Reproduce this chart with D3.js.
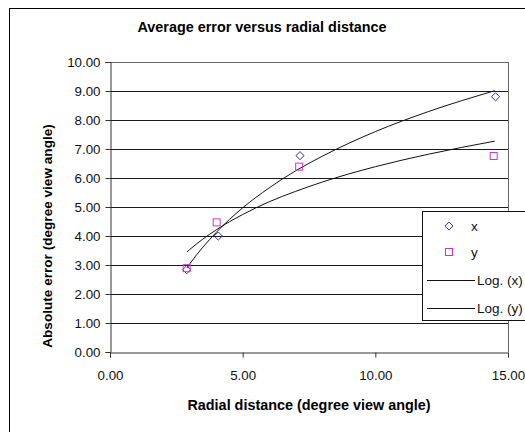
<!DOCTYPE html>
<html>
<head>
<meta charset="utf-8">
<script src="https://cdn.jsdelivr.net/npm/d3@7"></script>
<style>
  body { margin: 0; background: #fff; }
  svg { display: block; font-family: "Liberation Sans", Arial, sans-serif; }
</style>
</head>
<body>
<script>
"use strict";
(function(){
    // measured points
    const xDist = [2.89, 4.08, 7.16, 14.53]
    const xErr = [2.84, 4.00, 6.77, 8.80]
    const yDist = [2.89, 4.02, 7.13, 14.46]
    const yErr = [2.89, 4.47, 6.39, 6.76]

    // trend lines
    const trendDist = [2.9, 3, 4, 5, 6, 7, 8, 10, 12, 14.5]
    const logX = [2.90, 3.03, 4.12, 4.97, 5.66, 6.25, 6.75, 7.60, 8.29, 9.01]
    const logY = [3.45, 3.53, 4.21, 4.74, 5.18, 5.54, 5.86, 6.39, 6.82, 7.27]

    const yTicks = [0, 1, 2, 3, 4, 5, 6, 7, 8, 9, 10]
    const xTicks = [0, 5, 10, 15]
    const legendNames = ["x", "y", "Log. (x)", "Log. (y)"]

    const measurements = {
        width: 525,
        height: 432,
        marginLeft: 110,
        marginTop: 62,
        plotRight: 508,
        plotBottom: 352
    }

    const colors = {
        x: "#333399",
        y: "#cc33cc",
        grid: "#1a1a1a",
        border: "#666666"
    }

    const svg = d3.select("body").append("svg")
        .attr("width", measurements.width)
        .attr("height", measurements.height)

    // chart frame (runs past the picture edge)
    svg.append("rect")
        .attr("x", 9.5).attr("y", 8.5)
        .attr("width", 560).attr("height", 460)
        .attr("fill", "#fff")
        .attr("stroke", "#000")

    const scaleX = d3.scaleLinear()
        .domain([0, 15])
        .range([measurements.marginLeft, measurements.plotRight])
    const scaleY = d3.scaleLinear()
        .domain([0, 10])
        .range([measurements.plotBottom, measurements.marginTop])

    // gridlines
    svg.append("g")
        .selectAll("line")
        .data(yTicks.filter(d => d > 0))
        .enter()
        .append("line")
        .attr("x1", scaleX(0)).attr("x2", scaleX(15))
        .attr("y1", d => Math.round(scaleY(d)) + 0.5)
        .attr("y2", d => Math.round(scaleY(d)) + 0.5)
        .attr("stroke", d => d === 10 ? colors.border : colors.grid)

    // right border of plot area
    svg.append("line")
        .attr("x1", Math.round(scaleX(15)) + 0.5).attr("x2", Math.round(scaleX(15)) + 0.5)
        .attr("y1", scaleY(10)).attr("y2", scaleY(0))
        .attr("stroke", colors.border)

    // axes
    const yAxis = d3.axisLeft(scaleY)
        .tickValues(yTicks)
        .tickFormat(d3.format(".2f"))
        .tickSize(5)
        .tickPadding(5)
    const xAxis = d3.axisBottom(scaleX)
        .tickValues(xTicks)
        .tickFormat(d3.format(".2f"))
        .tickSize(5)
        .tickPadding(13)

    const gy = svg.append("g")
        .attr("transform", "translate(" + (Math.round(scaleX(0)) + 0.5) + ",0)")
        .call(yAxis)
    const gx = svg.append("g")
        .attr("transform", "translate(0," + (Math.round(scaleY(0)) + 0.5) + ")")
        .call(xAxis)

    ;[gx, gy].forEach(g => {
        g.select(".domain").attr("stroke", "#333")
        g.selectAll(".tick line").attr("stroke", "#333")
        g.selectAll("text")
            .attr("fill", "#111")
            .style("font-family", "'Liberation Sans', Arial, sans-serif")
            .style("font-size", "13.3px")
    })
    gy.selectAll("text").attr("dy", "0.36em")

    // trend lines
    const line = d3.line()
        .x(d => scaleX(d[0]))
        .y(d => scaleY(d[1]))
        .curve(d3.curveMonotoneX)

    ;[logX, logY].forEach(vals => {
        svg.append("path")
            .datum(trendDist.map((d, i) => [d, vals[i]]))
            .attr("d", line)
            .attr("fill", "none")
            .attr("stroke", "#111")
            .attr("stroke-width", 1)
    })

    // markers
    const diamond = d3.symbol().type(d3.symbolDiamond2).size(42)
    svg.append("g")
        .selectAll("path")
        .data(xDist.map((d, i) => [d, xErr[i]]))
        .enter()
        .append("path")
        .attr("d", diamond)
        .attr("transform", d => "translate(" + scaleX(d[0]) + "," + scaleY(d[1]) + ")")
        .attr("fill", "none")
        .attr("stroke", colors.x)

    svg.append("g")
        .selectAll("rect")
        .data(yDist.map((d, i) => [d, yErr[i]]))
        .enter()
        .append("rect")
        .attr("x", d => scaleX(d[0]) - 3.5)
        .attr("y", d => scaleY(d[1]) - 3.5)
        .attr("width", 7).attr("height", 7)
        .attr("fill", "none")
        .attr("stroke", colors.y)

    // legend
    const legend = svg.append("g")
    legend.append("rect")
        .attr("x", 422.5).attr("y", 211.5)
        .attr("width", 130).attr("height", 109)
        .attr("fill", "#fff")
        .attr("stroke", "#111")

    const rowY = [226, 252, 280, 308]
    legendNames.forEach((name, i) => {
        if (i === 0) {
            legend.append("path")
                .attr("d", diamond)
                .attr("transform", "translate(449," + rowY[i] + ")")
                .attr("fill", "none")
                .attr("stroke", colors.x)
        } else if (i === 1) {
            legend.append("rect")
                .attr("x", 445.5).attr("y", rowY[i] - 3.5)
                .attr("width", 7).attr("height", 7)
                .attr("fill", "none")
                .attr("stroke", colors.y)
        } else {
            legend.append("line")
                .attr("x1", 427).attr("x2", 475)
                .attr("y1", rowY[i] + 0.5).attr("y2", rowY[i] + 0.5)
                .attr("stroke", "#111")
        }
        legend.append("text")
            .attr("x", i < 2 ? 471 : 477)
            .attr("y", rowY[i])
            .attr("dy", "0.36em")
            .style("font-size", "13.5px")
            .attr("fill", "#111")
            .text(name)
    })

    // titles
    svg.append("text")
        .attr("x", 262)
        .attr("y", 32)
        .attr("text-anchor", "middle")
        .style("font-size", "14.4px")
        .style("font-weight", "bold")
        .text("Average error versus radial distance")

    svg.append("text")
        .attr("x", 309)
        .attr("y", 410)
        .attr("text-anchor", "middle")
        .style("font-size", "14.4px")
        .style("font-weight", "bold")
        .text("Radial distance (degree view angle)")

    svg.append("text")
        .attr("transform", "translate(52,236)rotate(-90)")
        .attr("text-anchor", "middle")
        .style("font-size", "13.6px")
        .style("font-weight", "bold")
        .text("Absolute error (degree view angle)")
})()
</script>
</body>
</html>
